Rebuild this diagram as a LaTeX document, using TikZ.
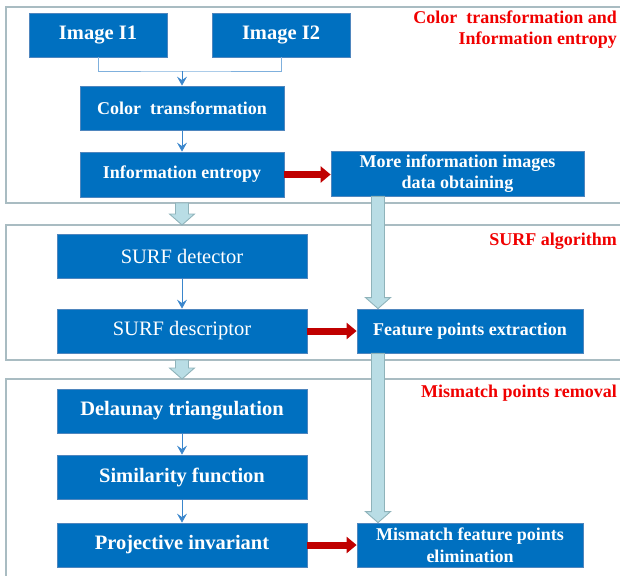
\documentclass[tikz,border=0pt]{standalone}
\usepackage{fontspec}
\setmainfont{Liberation Serif}
\usetikzlibrary{arrows.meta,calc}

\definecolor{boxblue}{HTML}{0070C0}
\definecolor{boxedge}{HTML}{4F86BE}
\definecolor{framegray}{HTML}{A9BCC2}
\definecolor{fatfill}{HTML}{B9DDE5}
\definecolor{fatedge}{HTML}{8FB3BA}
\definecolor{flowred}{HTML}{C00000}
\definecolor{labred}{HTML}{F00000}
\definecolor{thinblue}{HTML}{3A86CC}
\definecolor{joinblue}{HTML}{7FB0DD}

\tikzset{
  stepbox/.style={draw=boxedge, line width=0.8pt, fill=boxblue, text=white,
    inner sep=2pt, align=center, font=\bfseries\fontsize{18}{21.5}\selectfont},
  bigbold/.style={font=\bfseries\fontsize{20.5}{24}\selectfont},
  bigplain/.style={font=\fontsize{20.5}{24}\selectfont},
  frame/.style={draw=framegray, line width=1.4pt, inner sep=0pt, outer sep=0pt},
  grouplabel/.style={text=labred, inner sep=0pt, align=right,
    font=\bfseries\fontsize{18}{21.5}\selectfont},
  thinarrow/.style={draw=thinblue, line width=0.8pt,
    -{Stealth[length=9pt,width=10pt,inset=3.5pt]}},
  joinline/.style={draw=joinblue, line width=0.8pt},
  redarrow/.style={draw=flowred, line width=7pt,
    -{Triangle[length=10pt,width=16pt]}},
  fatarrow/.style={draw=fatedge, fill=fatfill, line width=0.9pt, line join=miter},
}

% wide down arrow from one point straight down to another
\newcommand\fatdown[2]{%
  \draw[fatarrow] let \p1=(#1), \p2=(#2) in
    (\x1-6.5pt,\y1) -- (\x1+6.5pt,\y1) -- (\x1+6.5pt,\y2+11pt)
    -- (\x1+12.5pt,\y2+11pt) -- (\x1,\y2) -- (\x1-12.5pt,\y2+11pt)
    -- (\x1-6.5pt,\y2+11pt) -- cycle;}

\begin{document}
\begin{tikzpicture}[x=1pt,y=-1pt]
\useasboundingbox (0,0) rectangle (620,575);

% stage frames
\node[frame, minimum width=634pt, minimum height=196pt] (f1) at (323,105) {};
\node[frame, minimum width=634pt, minimum height=135pt] (f2) at (323,292.5) {};
\node[frame, minimum width=634pt, minimum height=221pt] (f3) at (323,489.5) {};

% stage titles
\node[grouplabel, anchor=east] (l1) at (617,29.5)
  {Color\ \ transformation and\\Information entropy};
\node[grouplabel, anchor=east] (l2) at (617,241) {SURF algorithm};
\node[grouplabel, anchor=east] (l3) at (617,393) {Mismatch points removal};

% first stage
\node[stepbox, bigbold, minimum width=138pt, minimum height=44pt] (i1) at (98,35) {Image I1};
\node[stepbox, bigbold, minimum width=138pt, minimum height=44pt] (i2) at (281,35) {Image I2};
\node[stepbox, minimum width=204pt, minimum height=44pt] (ct) at (182,108) {Color\ \ transformation};
\node[stepbox, minimum width=204pt, minimum height=45pt] (ie) at (182,174.5) {Information entropy};
\node[stepbox, minimum width=253pt, minimum height=45pt] (mi) at (457.5,173.5)
  {More information images\\data obtaining};

% second stage
\node[stepbox, bigplain, minimum width=250pt, minimum height=44pt] (sd) at (182,256) {SURF detector};
\node[stepbox, bigplain, minimum width=250pt, minimum height=44pt] (sdesc) at (182,331) {SURF descriptor};
\node[stepbox, minimum width=226pt, minimum height=44pt] (fp) at (470,331) {Feature points extraction};

% third stage
\node[stepbox, bigbold, minimum width=250pt, minimum height=44pt] (dt) at (182,411) {Delaunay triangulation};
\node[stepbox, bigbold, minimum width=250pt, minimum height=44pt] (sf) at (182,477) {Similarity function};
\node[stepbox, bigbold, minimum width=250pt, minimum height=44pt] (pi) at (182,545) {Projective invariant};
\node[stepbox, minimum width=226pt, minimum height=44pt] (mf) at (470,545)
  {Mismatch feature points\\elimination};

% merging the two inputs
\coordinate (jn) at (182,71);
\draw[joinline] (i1.south) |- (jn) -| (i2.south);
\draw[thinarrow] (jn) -- (ct.north);

% thin flow arrows
\draw[thinarrow] (ct.south) -- (ie.north);
\draw[thinarrow] (sd.south) -- (sdesc.north);
\draw[thinarrow] (dt.south) -- (sf.north);
\draw[thinarrow] (sf.south) -- (pi.north);

% red result arrows
\draw[redarrow] (ie.east) -- (ie.east -| mi.west);
\draw[redarrow] (sdesc.east) -- (fp.west);
\draw[redarrow] (pi.east) -- (mf.west);

% wide arrows between stages
\coordinate (col) at (378,0);
\fatdown{ie |- f1.south}{ie |- f2.north}
\fatdown{sdesc |- f2.south}{sdesc |- f3.north}
\fatdown{col |- mi.south}{col |- fp.north}
\fatdown{col |- fp.south}{col |- mf.north}
\end{tikzpicture}
\end{document}
